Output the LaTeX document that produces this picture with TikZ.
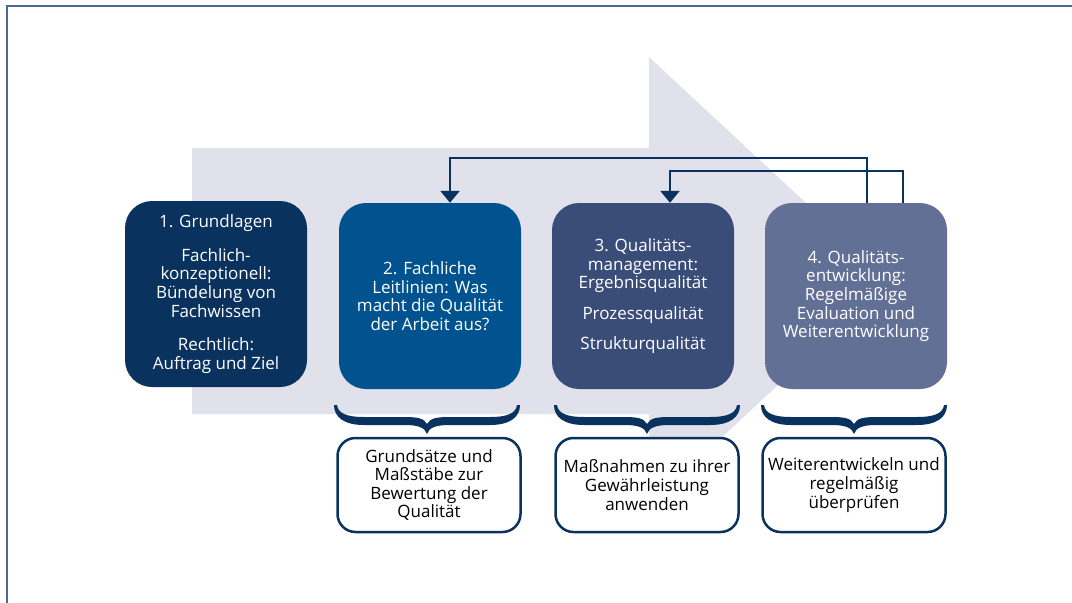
\documentclass[tikz,border=0pt]{standalone}
\usepackage{fontspec}
\setmainfont{Open Sans}
\usepackage{xcolor}
\usetikzlibrary{arrows.meta}

\definecolor{navy}{RGB}{10,50,94}
\definecolor{midblue}{RGB}{0,83,143}
\definecolor{slate}{RGB}{58,77,120}
\definecolor{greyblue}{RGB}{99,112,150}
\definecolor{lavender}{RGB}{225,225,235}
\definecolor{framecol}{RGB}{80,106,142}

% curly brace pointing down, left end at (#1,#2), 186 wide
\newcommand{\qbrace}[2]{%
  \fill[navy,shift={(#1,#2)}] (0,0) .. controls (0,12) and (10,20) .. (30,20) -- (71,20)
    .. controls (85,20) and (91,23) .. (93,29) .. controls (95,23) and (101,20) .. (115,20)
    -- (156,20) .. controls (176,20) and (186,12) .. (186,0) -- (183,0)
    .. controls (182,8) and (174,12) .. (156,12) -- (117,12)
    .. controls (103,12) and (96,13) .. (93,19) .. controls (90,13) and (83,12) .. (69,12)
    -- (30,12) .. controls (12,12) and (4,8) .. (3,0) -- cycle;}

\begin{document}
\begin{tikzpicture}[x=1pt,y=-1pt,
    phase/.style={rectangle, rounded corners=27pt, minimum width=182pt, minimum height=186pt,
      align=center, text=white, font=\fontsize{17}{18.6}\selectfont},
    goal/.style={rectangle, draw=navy, line width=2.5pt, fill=white, rounded corners=18pt,
      minimum width=183pt, minimum height=94pt, align=center, font=\fontsize{17}{18.6}\selectfont},
    link/.style={navy, line width=2.5pt, -{Triangle[width=19pt,length=12pt]}}]
    \useasboundingbox (0,0) rectangle (1072,603);
    \draw[framecol, line width=2pt] (7,603) -- (7,6) -- (1072,6);

    % big background arrow
    \fill[lavender] (192,148) -- (649,148) -- (649,57) -- (890,281) -- (649,505) -- (649,414) -- (192,414) -- cycle;

    \node[phase, fill=navy] (grund) at (216,294)
      {1. Grundlagen\\[15pt]Fachlich-\\konzeptionell:\\Bündelung von\\Fachwissen\\[15pt]Rechtlich:\\Auftrag und Ziel};
    \node[phase, fill=midblue] (leit) at (430,296)
      {2. Fachliche\\Leitlinien: Was\\macht die Qualität\\der Arbeit aus?};
    \node[phase, fill=slate] (qm) at (643,296)
      {3. Qualitäts-\\management:\\Ergebnisqualität\\[11.5pt]Prozessqualität\\[11.5pt]Strukturqualität};
    \node[phase, fill=greyblue] (qe) at (856,296)
      {4. Qualitäts-\\entwicklung:\\Regelmäßige\\Evaluation und\\Weiterentwicklung};

    % feedback loops
    \draw[link] ([xshift=11pt]qe.north) -- ++(0,-45) -| ([xshift=20pt]leit.north);
    \draw[link] ([xshift=47pt]qe.north) -- ++(0,-32) -| ([xshift=27pt]qm.north);

    \foreach \X in {334,554,761}{
      \qbrace{\X}{405}
    }

    \node[goal] (grundsaetze) at (429,485) {Grundsätze und\\Maßstäbe zur\\Bewertung der\\Qualität};
    \node[goal] (massnahmen) at (647,485) {Maßnahmen zu ihrer\\Gewährleistung\\anwenden};
    \node[goal] (weiter) at (854,485) {Weiterentwickeln und\\regelmäßig\\überprüfen};
\end{tikzpicture}
\end{document}
